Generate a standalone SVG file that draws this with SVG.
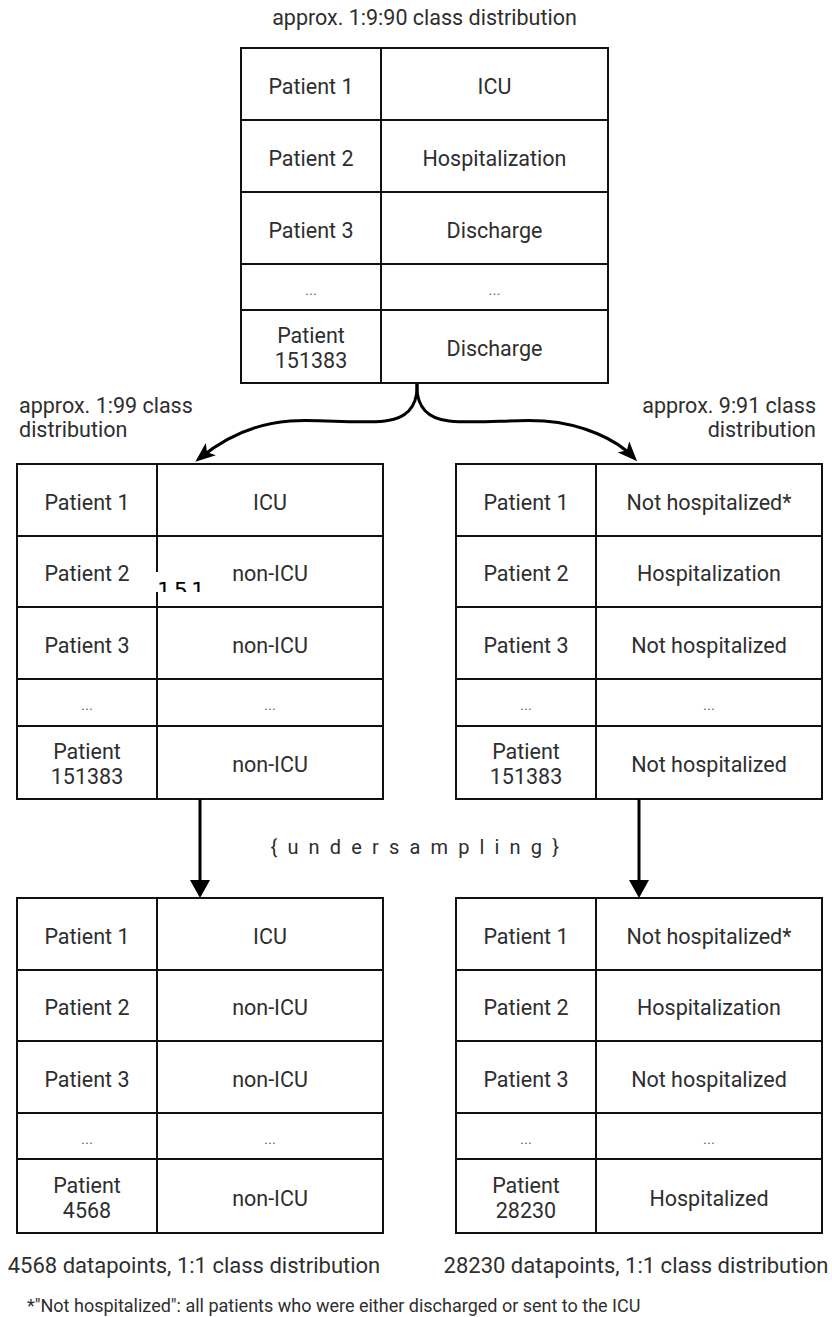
<svg xmlns="http://www.w3.org/2000/svg" width="832" height="1317" viewBox="0 0 832 1317">
<style>
text{font-family:Roboto,"Liberation Sans",sans-serif;fill:#2e2e2e}
.c{font-size:21.5px;text-anchor:middle}
.dots{font-size:15px;text-anchor:middle;fill:#666}
.lbl{font-size:21.5px}
.cap{font-size:22px;text-anchor:middle}
.fn{font-size:18px}
.grid{fill:none;stroke:#111;stroke-width:2}
.bg{fill:#fff;stroke:#111;stroke-width:2}
.edge{fill:none;stroke:#000;stroke-width:3}
</style>
<defs>
<marker id="classic" viewBox="0 0 20 16" refX="14" refY="8" markerWidth="20" markerHeight="16" markerUnits="userSpaceOnUse" orient="auto"><path d="M0,0 L20,8 L0,16 L5,8 Z" fill="#000"/></marker>
<marker id="block" viewBox="0 0 18 20" refX="12" refY="10" markerWidth="18" markerHeight="20" markerUnits="userSpaceOnUse" orient="auto"><path d="M0,0 L18,10 L0,20 Z" fill="#000"/></marker>
<clipPath id="artClip"><rect x="156" y="572" width="44" height="20"/></clipPath>
</defs>
<rect width="832" height="1317" fill="#fff"/>

<text class="c" x="424.5" y="25">approx. 1:9:90 class distribution</text>

<g id="table-top">
<rect class="bg" x="241" y="48" width="367" height="335"/>
<path class="grid" d="M381,48V383 M241,120H608 M241,192H608 M241,264H608 M241,310H608"/>
<text class="c" x="311" y="93.5">Patient 1</text>
<text class="c" x="494.5" y="93.5">ICU</text>
<text class="c" x="311" y="165.5">Patient 2</text>
<text class="c" x="494.5" y="165.5">Hospitalization</text>
<text class="c" x="311" y="237.5">Patient 3</text>
<text class="c" x="494.5" y="237.5">Discharge</text>
<text class="dots" x="311" y="295">...</text>
<text class="dots" x="494.5" y="295">...</text>
<text class="c" x="311" y="342.5">Patient</text>
<text class="c" x="311" y="367.5">151383</text>
<text class="c" x="494.5" y="356">Discharge</text>
</g>

<text class="lbl" x="19" y="413">approx. 1:99 class</text>
<text class="lbl" x="19" y="437">distribution</text>
<text class="lbl" x="816" y="413" text-anchor="end">approx. 9:91 class</text>
<text class="lbl" x="816" y="437" text-anchor="end">distribution</text>

<g id="table-mid-left">
<rect class="bg" x="17" y="464" width="366" height="335"/>
<path class="grid" d="M157,464V799 M17,536H383 M17,607H383 M17,679H383 M17,726H383"/>
<text class="c" x="87" y="509.5">Patient 1</text>
<text class="c" x="270" y="509.5">ICU</text>
<text class="c" x="87" y="581">Patient 2</text>
<text class="c" x="270" y="581">non-ICU</text>
<text class="c" x="87" y="652.5">Patient 3</text>
<text class="c" x="270" y="652.5">non-ICU</text>
<text class="dots" x="87" y="710">...</text>
<text class="dots" x="270" y="710">...</text>
<text class="c" x="87" y="758.5">Patient</text>
<text class="c" x="87" y="783.5">151383</text>
<text class="c" x="270" y="772">non-ICU</text>
<rect x="156" y="572" width="44" height="20" fill="#fff"/>
<text x="157" y="598" clip-path="url(#artClip)" style="font-family:'DejaVu Sans',sans-serif;font-size:22px;fill:#000;letter-spacing:3px">151</text>
</g>

<g id="table-mid-right">
<rect class="bg" x="456" y="464" width="366" height="335"/>
<path class="grid" d="M596,464V799 M456,536H822 M456,607H822 M456,679H822 M456,726H822"/>
<text class="c" x="526" y="509.5">Patient 1</text>
<text class="c" x="709" y="509.5">Not hospitalized*</text>
<text class="c" x="526" y="581">Patient 2</text>
<text class="c" x="709" y="581">Hospitalization</text>
<text class="c" x="526" y="652.5">Patient 3</text>
<text class="c" x="709" y="652.5">Not hospitalized</text>
<text class="dots" x="526" y="710">...</text>
<text class="dots" x="709" y="710">...</text>
<text class="c" x="526" y="758.5">Patient</text>
<text class="c" x="526" y="783.5">151383</text>
<text class="c" x="709" y="772">Not hospitalized</text>
</g>

<text class="lbl" x="416" y="854" text-anchor="middle" style="font-size:20px;letter-spacing:2.6px">{ u n d e r s a m p l i n g }</text>

<g id="table-bottom-left">
<rect class="bg" x="17" y="898" width="366" height="335"/>
<path class="grid" d="M157,898V1233 M17,970H383 M17,1041H383 M17,1113H383 M17,1159H383"/>
<text class="c" x="87" y="943.5">Patient 1</text>
<text class="c" x="270" y="943.5">ICU</text>
<text class="c" x="87" y="1015">Patient 2</text>
<text class="c" x="270" y="1015">non-ICU</text>
<text class="c" x="87" y="1086.5">Patient 3</text>
<text class="c" x="270" y="1086.5">non-ICU</text>
<text class="dots" x="87" y="1144">...</text>
<text class="dots" x="270" y="1144">...</text>
<text class="c" x="87" y="1192.5">Patient</text>
<text class="c" x="87" y="1217.5">4568</text>
<text class="c" x="270" y="1206">non-ICU</text>
</g>

<g id="table-bottom-right">
<rect class="bg" x="456" y="898" width="366" height="335"/>
<path class="grid" d="M596,898V1233 M456,970H822 M456,1041H822 M456,1113H822 M456,1159H822"/>
<text class="c" x="526" y="943.5">Patient 1</text>
<text class="c" x="709" y="943.5">Not hospitalized*</text>
<text class="c" x="526" y="1015">Patient 2</text>
<text class="c" x="709" y="1015">Hospitalization</text>
<text class="c" x="526" y="1086.5">Patient 3</text>
<text class="c" x="709" y="1086.5">Not hospitalized</text>
<text class="dots" x="526" y="1144">...</text>
<text class="dots" x="709" y="1144">...</text>
<text class="c" x="526" y="1192.5">Patient</text>
<text class="c" x="526" y="1217.5">28230</text>
<text class="c" x="709" y="1206">Hospitalized</text>
</g>

<g id="connectors">
<path class="edge" d="M417,384 C418,408 405,419 385,421 C355,424 320,419 290,421 C250,424 222,440 200,458" marker-end="url(#classic)"/>
<path class="edge" d="M417,384 C416,408 429,419 449,421 C479,424 514,419 544,421 C584,424 617,440 633,457" marker-end="url(#classic)"/>
<path class="edge" d="M200,799 V892" marker-end="url(#block)"/>
<path class="edge" d="M639,799 V892" marker-end="url(#block)"/>
</g>

<text class="cap" x="194" y="1273">4568 datapoints, 1:1 class distribution</text>
<text class="cap" x="636" y="1273">28230 datapoints, 1:1 class distribution</text>
<text class="fn" x="27" y="1312">*"Not hospitalized": all patients who were either discharged or sent to the ICU</text>
</svg>
